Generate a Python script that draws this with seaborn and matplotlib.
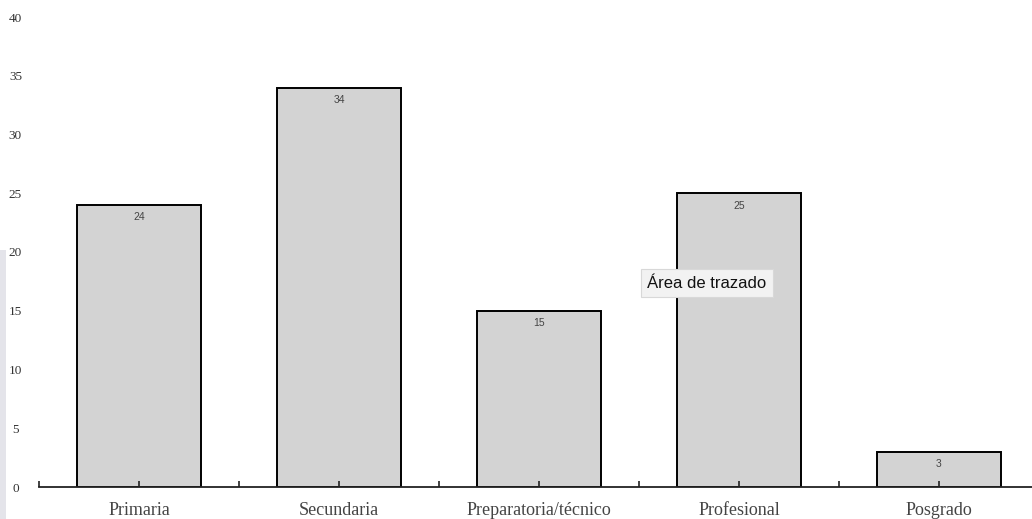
import matplotlib
matplotlib.use("Agg")
import matplotlib.pyplot as plt
import seaborn as sns
import pandas as pd
from matplotlib.patches import Rectangle
from matplotlib.ticker import FixedLocator

categories = ["Primaria", "Secundaria", "Preparatoria/técnico", "Profesional", "Posgrado"]
values = [24, 34, 15, 25, 3]
yticks = [0, 5, 10, 15, 20, 25, 30, 35, 40]

df = pd.DataFrame({"nivel": categories, "n": values})

sns.set_theme(style="white")
W, H = 1032, 519
fig = plt.figure(figsize=(W / 100, H / 100), dpi=100)
fig.patch.set_facecolor("white")

# faint side strip at left edge
fig.add_artist(Rectangle((0, 0), 6 / W, (519 - 250) / H, transform=fig.transFigure,
                         facecolor="#e4e4ea", edgecolor="none", zorder=0))

ax = fig.add_axes([39 / W, (H - 487) / H, 1000 / W, 470 / H])
ax.set_facecolor("none")
sns.barplot(data=df, x="nivel", y="n", ax=ax, color="#d3d3d3", width=0.62,
            edgecolor="black", linewidth=1.4, saturation=1)
for p in ax.patches:
    p.set_facecolor("#d3d3d3")
    p.set_zorder(1)

ax.set_xlim(-0.5, 4.5)
ax.set_ylim(0, 40)
ax.set_xlabel("")
ax.set_ylabel("")
for s in ["top", "right", "left"]:
    ax.spines[s].set_visible(False)
ax.spines["bottom"].set_color("#222222")
ax.spines["bottom"].set_linewidth(1.3)
ax.set_axisbelow(False)

ax.set_yticks(yticks)
ax.set_yticklabels([str(t) for t in yticks], family="Liberation Serif", fontsize=9.5, color="#333333")
ax.tick_params(axis="y", length=0, pad=17)
for lbl in ax.get_yticklabels():
    lbl.set_horizontalalignment("center")

ax.set_xticks(range(len(categories)))
ax.set_xticklabels(categories, family="Liberation Serif", fontsize=13, color="#444444")
ax.xaxis.set_minor_locator(FixedLocator([i - 0.5 for i in range(len(categories) + 1)]))
ax.tick_params(axis="x", which="major", direction="in", length=4, width=1.2, color="#222222",
               bottom=True, pad=11)
ax.tick_params(axis="x", which="minor", direction="in", length=4, width=1.2, color="#222222",
               bottom=True)
for t in ax.xaxis.get_major_ticks():
    t.tick1line.set_zorder(5)
    t.tick1line.set_visible(True)

for i, v in enumerate(values):
    ax.annotate(str(v), (i, v), xytext=(0, -9), textcoords="offset points",
                ha="center", va="center", fontsize=7.5, color="#444444",
                family="Liberation Sans")

# tooltip overlay
fig.text(707 / W, 1 - 283 / H, "Área de trazado", ha="center", va="center",
         fontsize=12, family="Liberation Sans", color="#111111",
         bbox=dict(boxstyle="square,pad=0.4", facecolor="#f2f2f2", edgecolor="#d8d8d8", linewidth=0.8))

fig.savefig("out.png", dpi=100)
